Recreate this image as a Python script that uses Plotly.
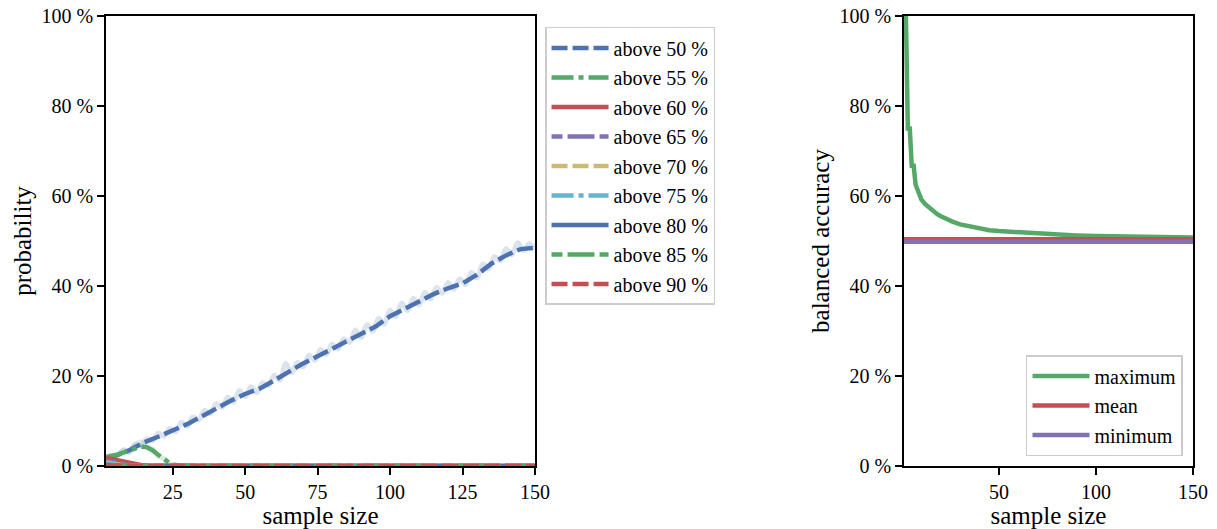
import plotly.graph_objects as go

# ---------------- data: left panel (probability of exceeding a balanced accuracy) -------------
smooth_x = [2, 5, 10, 15, 20, 25, 30, 35, 40, 45, 50, 55, 60, 65, 70, 75, 80, 85, 90, 95,
            100, 105, 110, 115, 120, 125, 130, 135, 140, 145, 150]
above50 = [1.8, 2.2, 3.5, 5.2, 6.5, 7.8, 9.3, 11.0, 12.8, 14.5, 16.0, 17.2, 19.0, 21.0, 22.8,
           24.4, 26.0, 27.8, 29.3, 31.0, 33.3, 35.0, 36.5, 38.2, 39.5, 40.6, 42.5, 45.0, 46.8,
           48.2, 48.5]

raw_x = list(range(2, 151, 2))
above50_raw = [1.8, 2.3, 2.2, 3.6, 3.2, 4.8, 4.5, 6.0, 5.6, 7.3, 6.6, 8.4, 7.6, 9.7, 8.8, 10.9,
               10.2, 12.4, 11.6, 13.9, 13.0, 15.3, 14.2, 16.8, 15.4, 17.6, 16.3, 18.5, 17.8, 20.2,
               19.1, 22.8, 20.7, 23.0, 22.0, 24.6, 23.5, 25.9, 24.8, 27.1, 26.0, 28.3, 27.5, 30.2,
               28.6, 31.4, 29.9, 32.8, 31.5, 34.6, 33.2, 36.2, 34.5, 37.3, 35.8, 38.6, 37.1, 39.7,
               38.4, 40.8, 39.3, 41.6, 40.3, 43.0, 41.8, 44.9, 43.8, 46.5, 45.6, 48.3, 46.9, 49.6,
               47.9, 49.4, 48.2]

low_x = [2, 4, 6, 8, 10, 12, 14, 16, 18, 20, 22, 24, 26, 28, 30, 150]
above55 = [2.0, 2.2, 2.5, 3.0, 3.4, 3.9, 4.3, 4.2, 3.5, 2.5, 1.5, 0.6, 0.2, 0.05, 0.0, 0.0]
above55_raw = [2.0, 2.4, 2.6, 3.4, 3.0, 4.6, 5.4, 4.4, 3.8, 2.2, 1.6, 0.4, 0.2, 0.0, 0.0, 0.0]
above60 = [1.8, 1.5, 1.2, 0.9, 0.6, 0.4, 0.25, 0.1, 0.05, 0.0, 0.0, 0.0, 0.0, 0.0, 0.0, 0.0]
above65 = [1.2, 0.9, 0.6, 0.35, 0.2, 0.1, 0.05, 0.0, 0.0, 0.0, 0.0, 0.0, 0.0, 0.0, 0.0, 0.0]
above70 = [0.8, 0.5, 0.3, 0.15, 0.05, 0.0, 0.0, 0.0, 0.0, 0.0, 0.0, 0.0, 0.0, 0.0, 0.0, 0.0]
above75 = [0.5, 0.3, 0.15, 0.05, 0.0, 0.0, 0.0, 0.0, 0.0, 0.0, 0.0, 0.0, 0.0, 0.0, 0.0, 0.0]
above80 = [0.3, 0.15, 0.05, 0.0, 0.0, 0.0, 0.0, 0.0, 0.0, 0.0, 0.0, 0.0, 0.0, 0.0, 0.0, 0.0]
above85 = [0.2, 0.1, 0.0, 0.0, 0.0, 0.0, 0.0, 0.0, 0.0, 0.0, 0.0, 0.0, 0.0, 0.0, 0.0, 0.0]
above90 = [0.1, 0.05, 0.0, 0.0, 0.0, 0.0, 0.0, 0.0, 0.0, 0.0, 0.0, 0.0, 0.0, 0.0, 0.0, 0.0]

threshold_labels = ["above 50 %", "above 55 %", "above 60 %", "above 65 %", "above 70 %",
                    "above 75 %", "above 80 %", "above 85 %", "above 90 %"]

# ---------------- data: right panel (balanced accuracy) ----------------
acc_x = [1, 2, 3, 4, 5, 6, 7, 8, 9, 10, 12, 14, 16, 18, 20, 23, 26, 30, 35, 40, 45, 50,
         60, 70, 80, 90, 100, 110, 120, 130, 140, 150]
acc_max = [100, 100, 75, 75, 66.7, 66.7, 62.5, 61.5, 60.0, 59.2, 58.2, 57.4, 56.6, 56.0, 55.5,
           54.8, 54.3, 53.7, 53.2, 52.8, 52.4, 52.2, 51.9, 51.6, 51.4, 51.25, 51.1, 51.05,
           50.95, 50.9, 50.85, 50.8]
mean_x = [1, 150]
acc_mean = [50.4, 50.4]
acc_min = [49.85, 49.85]

x_ticks_left = [25, 50, 75, 100, 125, 150]
x_ticks_right = [50, 100, 150]
y_ticks = [0, 20, 40, 60, 80, 100]
y_tick_text = ["0 %", "20 %", "40 %", "60 %", "80 %", "100 %"]

# ---------------- styles ----------------
BLUE, GREEN, RED, PURPLE, YELLOW, CYAN = "#4C72B0", "#55A868", "#C44E52", "#8172B2", "#CCB974", "#64B5CD"
DASH = "16px,5px"
DASHDOT = "22px,5px,5px,5px"
SOLID = "solid"
SHORTLONG = "11px,5px,27px,5px"
FONT = "Liberation Serif"
LW = 4.5

fig = go.Figure()

# faded raw curves
fig.add_trace(go.Scatter(x=raw_x, y=above50_raw, mode="lines", showlegend=False,
                         line=dict(color="rgba(76,114,176,0.2)", width=5, shape="spline"),
                         hoverinfo="skip", xaxis="x", yaxis="y"))
fig.add_trace(go.Scatter(x=low_x, y=above55_raw, mode="lines", showlegend=False,
                         line=dict(color="rgba(85,168,104,0.2)", width=5, shape="spline"),
                         hoverinfo="skip", xaxis="x", yaxis="y"))

series = [
    (smooth_x, above50, BLUE, DASH),
    (low_x, above55, GREEN, DASHDOT),
    (low_x, above60, RED, SOLID),
    (low_x, above65, PURPLE, SHORTLONG),
    (low_x, above70, YELLOW, DASH),
    (low_x, above75, CYAN, DASHDOT),
    (low_x, above80, BLUE, SOLID),
    (low_x, above85, GREEN, SHORTLONG),
    (low_x, above90, RED, DASH),
]
for i, (xs, ys, col, dash) in enumerate(series):
    fig.add_trace(go.Scatter(x=xs, y=ys, mode="lines", name=threshold_labels[i],
                             legendgroup=f"g{i}", legend="legend",
                             line=dict(color=col, width=LW, dash=dash),
                             xaxis="x", yaxis="y"))

for name, ys_x, ys, col in [("maximum", acc_x, acc_max, GREEN),
                            ("mean", mean_x, acc_mean, RED),
                            ("minimum", mean_x, acc_min, PURPLE)]:
    fig.add_trace(go.Scatter(x=ys_x, y=ys, mode="lines", name=name,
                             legendgroup=f"r{name}", legend="legend2",
                             line=dict(color=col, width=LW),
                             xaxis="x2", yaxis="y2"))

axis_common = dict(showline=True, linecolor="black", linewidth=1.6, mirror=True,
                   ticks="outside", ticklen=7, tickwidth=1.6, tickcolor="black",
                   showgrid=False, zeroline=False, automargin=False,
                   tickfont=dict(family=FONT, size=20, color="black"))

TITLE_FONT = dict(family=FONT, size=25, color="black")
fig.update_layout(
    width=1217, height=529,
    margin=dict(l=106, r=24, t=16, b=63),
    paper_bgcolor="white", plot_bgcolor="white",
    font=dict(family=FONT, color="black"),
    xaxis=dict(domain=[0, 0.3947], range=[2, 150], tickvals=x_ticks_left,
               title=dict(text="sample size", font=TITLE_FONT, standoff=0),
               anchor="y", **axis_common),
    yaxis=dict(domain=[0, 1], range=[0, 100], tickvals=y_ticks, ticktext=y_tick_text,
               title=dict(text="probability", font=TITLE_FONT, standoff=3),
               anchor="x", **axis_common),
    xaxis2=dict(domain=[0.7341, 1], range=[1, 150], tickvals=x_ticks_right,
                title=dict(text="sample size", font=TITLE_FONT, standoff=0),
                anchor="y2", **axis_common),
    yaxis2=dict(domain=[0, 1], range=[0, 100], tickvals=y_ticks, ticktext=y_tick_text,
                title=dict(text="balanced accuracy", font=TITLE_FONT, standoff=3),
                anchor="x2", **axis_common),
    legend=dict(x=0.4039, y=0.9756, xanchor="left", yanchor="top",
                bordercolor="#cccccc", borderwidth=1.5, bgcolor="rgba(255,255,255,0.8)",
                font=dict(family=FONT, size=20, color="black"), tracegroupgap=0.5,
                itemwidth=57),
    legend2=dict(x=0.9908, y=0.0222, xanchor="right", yanchor="bottom",
                 bordercolor="#cccccc", borderwidth=1.5, bgcolor="rgba(255,255,255,0.8)",
                 font=dict(family=FONT, size=20, color="black"), tracegroupgap=0.5,
                 itemwidth=57),
)

fig.write_html("out.html", config={"displayModeBar": False},
               post_script="document.body.style.margin='0';")
